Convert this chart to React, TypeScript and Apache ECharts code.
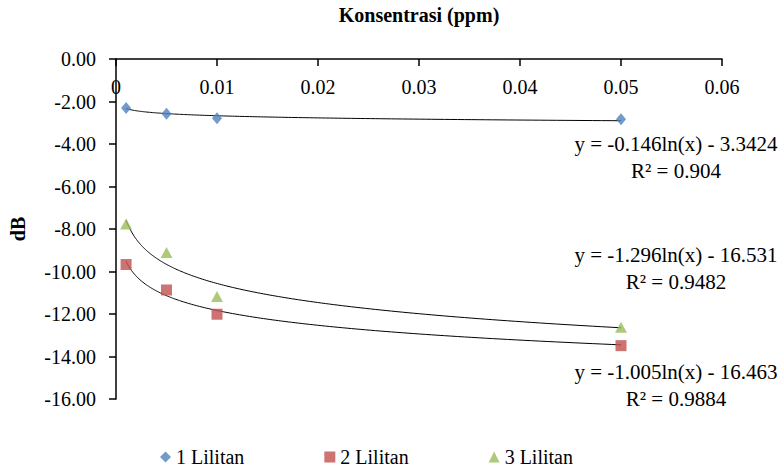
import React, { useEffect, useRef } from "react";
import * as echarts from "echarts";

const concentrations = [0.001, 0.005, 0.01, 0.05];
const lilitan1 = [-2.3, -2.58, -2.79, -2.83];
const lilitan2 = [-9.67, -10.87, -12.01, -13.49];
const lilitan3 = [-7.76, -9.11, -11.18, -12.62];
const seriesNames = ["1 Lilitan", "2 Lilitan", "3 Lilitan"];
const xTicks = ["0", "0.01", "0.02", "0.03", "0.04", "0.05", "0.06"];
// trendline coefficients: y = a ln(x) + b
const trendA = [-0.146, -1.005, -1.296];
const trendB = [-3.3424, -16.463, -16.531];
const equations = [
  "y = -0.146ln(x) - 3.3424\nR² = 0.904",
  "y = -1.296ln(x) - 16.531\nR² = 0.9482",
  "y = -1.005ln(x) - 16.463\nR² = 0.9884",
];

const FONT = "'Liberation Serif', 'Times New Roman', serif";

function trend(a: number, b: number) {
  const x0 = concentrations[0];
  const x1 = concentrations[concentrations.length - 1];
  const pts: number[][] = [];
  const n = 200;
  for (let i = 0; i <= n; i++) {
    const x = x0 * Math.pow(x1 / x0, i / n);
    pts.push([x, a * Math.log(x) + b]);
  }
  return pts;
}

export default function App() {
  const ref = useRef<HTMLDivElement>(null);
  useEffect(() => {
    if (!ref.current) return;
    const chart = echarts.init(ref.current, null, { renderer: "svg" });
    const colors = ["#4F81BD", "#C0504D", "#9BBB59"];
    const symbols = ["diamond", "rect", "triangle"];
    const symbolSizes: any[] = [[10, 12], [11, 11], [12, 11]];
    const values = [lilitan1, lilitan2, lilitan3];
    const scatter = values.map((vals, i) => ({
      name: seriesNames[i],
      type: "scatter",
      symbol: symbols[i],
      symbolSize: symbolSizes[i],
      itemStyle: { color: colors[i] },
      data: concentrations.map((x, j) => [x, vals[j]]),
      z: 3,
    }));
    const lines = trendA.map((a, i) => ({
      name: "trend" + i,
      type: "line",
      showSymbol: false,
      symbol: "none",
      lineStyle: { color: "#000", width: 1 },
      data: trend(a, trendB[i]),
      z: 2,
    }));
    const eqY = [157, 268, 385];
    chart.setOption({
      animation: false,
      textStyle: { fontFamily: FONT },
      grid: { left: 113, top: 57, right: 62, bottom: 71 },
      xAxis: {
        type: "value",
        position: "top",
        min: 0,
        max: 0.06,
        interval: 0.01,
        name: "Konsentrasi (ppm)",
        nameLocation: "middle",
        nameGap: 34,
        nameTextStyle: { fontFamily: FONT, fontSize: 20, fontWeight: "bold", color: "#000" },
        axisLine: { show: true, onZero: false, lineStyle: { color: "#000", width: 1.5 } },
        axisTick: { show: true, inside: true, length: 7, lineStyle: { color: "#000", width: 1.5 } },
        axisLabel: {
          inside: true,
          margin: 18,
          fontFamily: FONT,
          fontSize: 20,
          color: "#000",
          formatter: (v: number) => xTicks[Math.round(v / 0.01)] ?? "",
        },
        splitLine: { show: false },
      },
      yAxis: {
        type: "value",
        min: -16,
        max: 0,
        interval: 2,
        name: "dB",
        nameLocation: "middle",
        nameRotate: 90,
        nameGap: 88,
        nameTextStyle: { fontFamily: FONT, fontSize: 20, fontWeight: "bold", color: "#000" },
        axisLine: { show: true, onZero: false, lineStyle: { color: "#000", width: 1.5 } },
        axisTick: { show: true, length: 7, lineStyle: { color: "#000", width: 1.5 } },
        axisLabel: {
          margin: 20,
          fontFamily: FONT,
          fontSize: 20,
          color: "#000",
          formatter: (v: number) => v.toFixed(2),
        },
        splitLine: { show: false },
      },
      legend: {
        data: seriesNames,
        left: 155,
        top: 442,
        itemGap: 80,
        itemWidth: 11,
        itemHeight: 11,
        textStyle: { fontFamily: FONT, fontSize: 20, color: "#000" },
      },
      graphic: equations.map((t, i) => ({
        type: "text",
        x: 676,
        y: eqY[i],
        style: {
          text: t,
          font: `21px ${FONT}`,
          fill: "#000",
          align: "center",
          verticalAlign: "middle",
          lineHeight: 27,
        },
      })),
      series: [...lines, ...scatter],
    });
    return () => chart.dispose();
  }, []);
  return (
    <div
      ref={ref}
      style={{ position: "fixed", left: 0, top: 0, width: 784, height: 470, background: "#fff" }}
    />
  );
}
